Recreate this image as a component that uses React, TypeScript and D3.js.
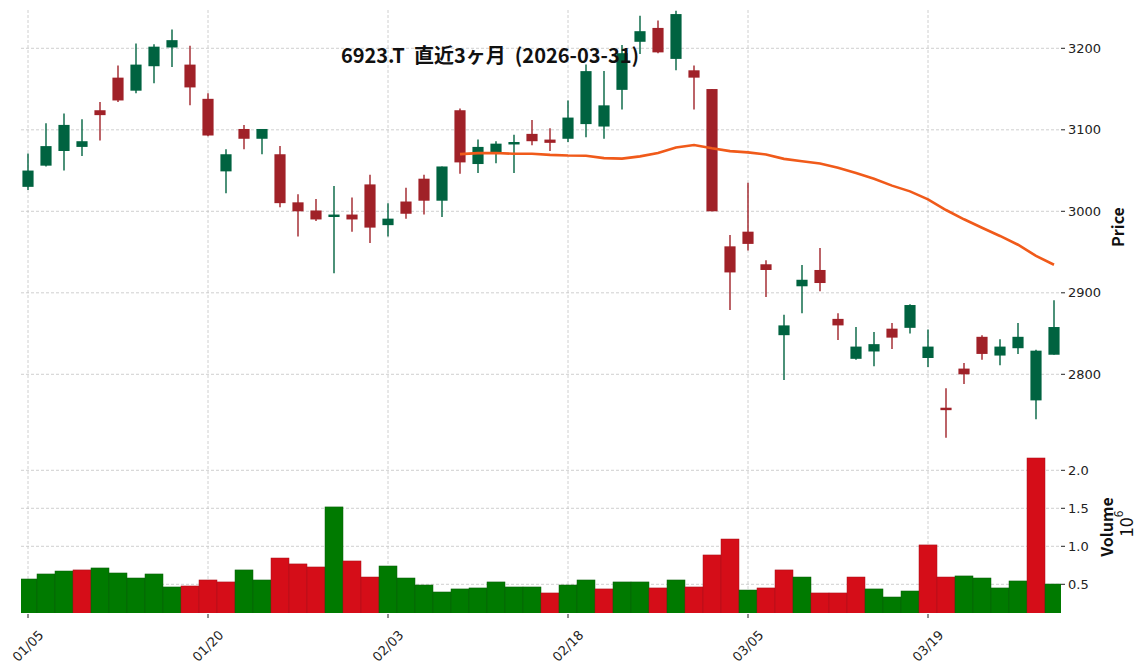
import React from 'react';
import * as d3 from 'd3';

const dates = [
  '01/05','01/06','01/07','01/08','01/09','01/13','01/14','01/15','01/16','01/19',
  '01/20','01/21','01/22','01/23','01/26','01/27','01/28','01/29','01/30','02/02',
  '02/03','02/04','02/05','02/06','02/09','02/10','02/12','02/13','02/16','02/17',
  '02/18','02/19','02/20','02/24','02/25','02/26','02/27','03/02','03/03','03/04',
  '03/05','03/06','03/09','03/10','03/11','03/12','03/13','03/16','03/17','03/18',
  '03/19','03/23','03/24','03/25','03/26','03/27','03/30','03/31'
];
const opens = [
  3030,3056,3074,3079,3124,3164,3148,3178,3201,3180,
  3138,3049,3101,3089,3070,3011,3001,2993,2996,3033,
  2983,3012,3040,3013,3124,3058,3071,3082,3095,3088,
  3089,3107,3104,3149,3208,3225,3187,3173,3150,2957,
  2975,2935,2848,2908,2928,2868,2819,2828,2856,2857,
  2820,2759,2807,2846,2823,2832,2768,2824
];
const highs = [
  3071,3108,3120,3113,3134,3179,3206,3205,3223,3203,
  3145,3076,3106,3101,3080,3021,3015,3031,3017,3045,
  3010,3029,3045,3055,3126,3088,3086,3094,3112,3102,
  3136,3180,3172,3204,3240,3234,3246,3179,3150,2971,
  3035,2940,2873,2934,2955,2875,2858,2852,2863,2886,
  2855,2783,2814,2848,2843,2863,2830,2891
];
const lows = [
  3026,3055,3050,3068,3087,3134,3145,3157,3177,3130,
  3092,3022,3076,3070,3005,2969,2988,2924,2975,2961,
  2969,2991,2996,2993,3046,3047,3059,3047,3081,3074,
  3085,3091,3089,3125,3193,3194,3173,3125,3000,2879,
  2952,2895,2793,2875,2902,2842,2818,2810,2831,2850,
  2809,2722,2788,2818,2811,2825,2745,2824
];
const closes = [
  3050,3080,3106,3086,3118,3136,3180,3202,3210,3152,
  3093,3070,3089,3101,3010,3000,2990,2996,2990,2980,
  2991,2997,3013,3055,3060,3079,3083,3085,3086,3084,
  3115,3172,3130,3194,3221,3195,3242,3164,3000,2925,
  2960,2928,2860,2916,2912,2860,2834,2837,2845,2885,
  2834,2756,2800,2825,2834,2846,2829,2858
];
const volumes = [
  570000,636000,675000,689000,715000,649000,583000,636000,465000,478000,
  557000,531000,689000,557000,846000,768000,728000,1518000,807000,596000,
  741000,583000,491000,399000,439000,452000,531000,465000,465000,386000,
  491000,557000,439000,531000,531000,452000,557000,465000,886000,1096000,
  425000,452000,689000,596000,386000,386000,596000,439000,333000,412000,
  1018000,596000,610000,583000,452000,544000,2162000,504000
];
const xTickLabels = ['01/05','01/20','02/03','02/18','03/05','03/19'];
const priceTicks = [2800, 2900, 3000, 3100, 3200];
const volumeTicks = [0.5, 1.0, 1.5, 2.0];
const MA_PERIOD = 25;
const title = '6923.T  直近3ヶ月  (2026-03-31)';

const UP = '#006340';
const DOWN = '#a02128';
const VUP = '#007a00';
const VDOWN = '#d50d18';
const MA_COLOR = '#f05a1a';
const GRID = '#c4c4c4';

export default function App() {
  const W = 1148, H = 670;
  const left = 21, right = 1061;
  const pTop = 10, pBot = 440;
  const vTop = 441, vBot = 613;

  const x = d3.scaleBand<string>().domain(dates).range([19, 1063]).padding(0);
  const step = x.step();
  const cx = (i: number) => (x(dates[i]) as number) + step / 2;

  const y = d3.scaleLinear().domain([2800, 3200]).range([374.3, 48.3]);
  const yv = d3.scaleLinear().domain([0.5e6, 2.0e6]).range([584.3, 470.3]);

  const ma: [number, number][] = [];
  closes.forEach((_, i) => {
    if (i >= MA_PERIOD - 1) {
      const m = d3.mean(closes.slice(i - MA_PERIOD + 1, i + 1)) as number;
      ma.push([cx(i), y(m)]);
    }
  });
  const line = d3.line().curve(d3.curveLinear)(ma) || '';

  const bodyW = step * 0.62;
  const font = 'DejaVu Sans, sans-serif';
  const cjk = '"Noto Sans CJK JP", "Noto Sans", sans-serif';

  return (
    <svg width={W} height={H} style={{ display: 'block', position: 'absolute', left: 0, top: 0, background: '#fff' }}>
      <defs>
        <clipPath id="pclip"><rect x={left} y={pTop} width={right - left} height={pBot - pTop} /></clipPath>
        <clipPath id="vclip"><rect x={left} y={vTop} width={right - left} height={vBot - vTop} /></clipPath>
      </defs>
      <rect x={0} y={0} width={W} height={H} fill="#fff" />

      {/* grids */}
      <g stroke={GRID} strokeWidth={0.8} strokeDasharray="3,2">
        {xTickLabels.map((d) => {
          const i = dates.indexOf(d);
          return (
            <g key={'vg' + d}>
              <line x1={cx(i)} x2={cx(i)} y1={pTop} y2={pBot} />
              <line x1={cx(i)} x2={cx(i)} y1={vTop} y2={vBot} />
            </g>
          );
        })}
        {priceTicks.map((t) => (
          <line key={'pg' + t} x1={left} x2={right} y1={y(t)} y2={y(t)} />
        ))}
        {volumeTicks.map((t) => (
          <line key={'vgl' + t} x1={left} x2={right} y1={yv(t * 1e6)} y2={yv(t * 1e6)} />
        ))}
      </g>

      {/* candles */}
      <g clipPath="url(#pclip)">
        {dates.map((d, i) => {
          const up = closes[i] >= opens[i];
          const c = up ? UP : DOWN;
          const top = y(Math.max(opens[i], closes[i]));
          const bot = y(Math.min(opens[i], closes[i]));
          return (
            <g key={'c' + i}>
              <line x1={cx(i)} x2={cx(i)} y1={y(highs[i])} y2={y(lows[i])} stroke={c} strokeWidth={1.4} />
              <rect x={cx(i) - bodyW / 2} y={top} width={bodyW} height={Math.max(bot - top, 1.5)} fill={c} />
            </g>
          );
        })}
        <path d={line} fill="none" stroke={MA_COLOR} strokeWidth={2.6} />
      </g>

      {/* volume */}
      <g clipPath="url(#vclip)">
        {dates.map((d, i) => {
          const up = i === 0 ? closes[i] >= opens[i] : closes[i] >= closes[i - 1];
          const c = up ? VUP : VDOWN;
          return (
            <rect key={'v' + i} x={x(d) as number} y={yv(volumes[i])} width={step} height={vBot + 5 - yv(volumes[i])}
              fill={c} stroke={up ? '#0b5e0b' : '#a8111a'} strokeWidth={0.5} />
          );
        })}
      </g>

      {/* x ticks & labels */}
      {xTickLabels.map((d) => {
        const i = dates.indexOf(d);
        return (
          <g key={'xt' + d}>
            <line x1={cx(i)} x2={cx(i)} y1={vBot + 1} y2={vBot + 5} stroke="#222" strokeWidth={1} />
            <text transform={`translate(${cx(i)},${646}) rotate(-45)`} textAnchor="middle" dominantBaseline="central"
              fontFamily={font} fontSize={13} fill="#222">{d}</text>
          </g>
        );
      })}

      {/* right axes */}
      {priceTicks.map((t) => (
        <g key={'pt' + t}>
          <line x1={right} x2={right + 4} y1={y(t)} y2={y(t)} stroke="#222" strokeWidth={1} />
          <text x={right + 7} y={y(t)} dominantBaseline="central" fontFamily={font} fontSize={13} fill="#222">{t}</text>
        </g>
      ))}
      {volumeTicks.map((t) => (
        <g key={'vt' + t}>
          <line x1={right} x2={right + 4} y1={yv(t * 1e6)} y2={yv(t * 1e6)} stroke="#222" strokeWidth={1} />
          <text x={right + 7} y={yv(t * 1e6)} dominantBaseline="central" fontFamily={font} fontSize={13} fill="#222">{t.toFixed(1)}</text>
        </g>
      ))}

      <text transform="translate(1117,227) rotate(-90)" textAnchor="middle" dominantBaseline="central"
        fontFamily={cjk} fontWeight="bold" fontSize={16} fill="#111">Price</text>
      <text transform="translate(1106,527) rotate(-90)" textAnchor="middle" dominantBaseline="central"
        fontFamily={cjk} fontWeight="bold" fontSize={16} fill="#111">Volume</text>
      <text transform="translate(1125,524) rotate(-90)" textAnchor="middle" dominantBaseline="central"
        fontFamily={cjk} fontSize={18} fill="#111">10<tspan fontSize={12} dy={-8}>6</tspan></text>

      <text x={490} y={63} textAnchor="middle" fontFamily={cjk} fontWeight="bold" fontSize={20} fill="#111"
        style={{ whiteSpace: 'pre' }}>{title}</text>
    </svg>
  );
}
